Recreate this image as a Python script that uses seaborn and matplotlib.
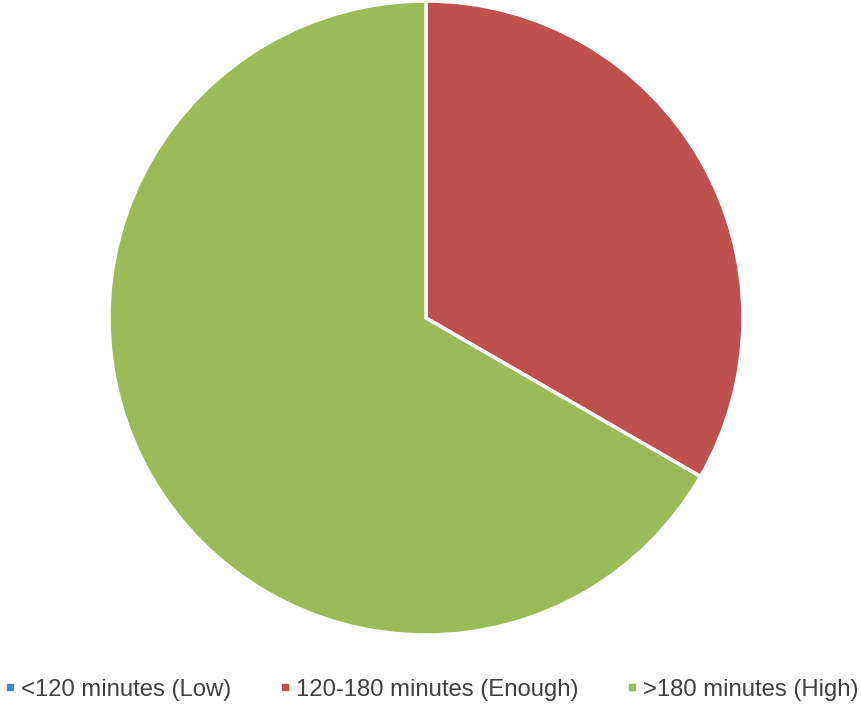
import matplotlib.pyplot as plt
import seaborn as sns
from matplotlib.lines import Line2D

categories = ['<120 minutes (Low)', '120-180 minutes (Enough)', '>180 minutes (High)']
values = [0, 1, 2]
colors = ['#4F81BD', '#C0504D', '#9BBB59']

sns.set_theme(style="white")
plt.rcParams['font.family'] = ['Liberation Sans', 'DejaVu Sans']

fig = plt.figure(figsize=(8.61, 7.04), dpi=100)
r = 317
ax = fig.add_axes([(426 - r) / 861, (704 - 318 - r) / 704, 2 * r / 861, 2 * r / 704])
ax.pie(values, colors=colors, startangle=90, counterclock=False, radius=1,
       wedgeprops=dict(edgecolor='white', linewidth=2.5))
ax.set_xlim(-1, 1)
ax.set_ylim(-1, 1)
ax.set_aspect('equal')

handles = [Line2D([0], [0], marker='s', linestyle='', markersize=5,
                  markerfacecolor=c, markeredgecolor=c) for c in colors]
fig.legend(handles, categories, loc='lower center', ncol=3, frameon=False,
           bbox_to_anchor=(0.5015, -0.026), fontsize=17.2, handlelength=0.4,
           handletextpad=0.25, columnspacing=2.05, labelcolor='#404040')

fig.savefig('out.png', dpi=100)
